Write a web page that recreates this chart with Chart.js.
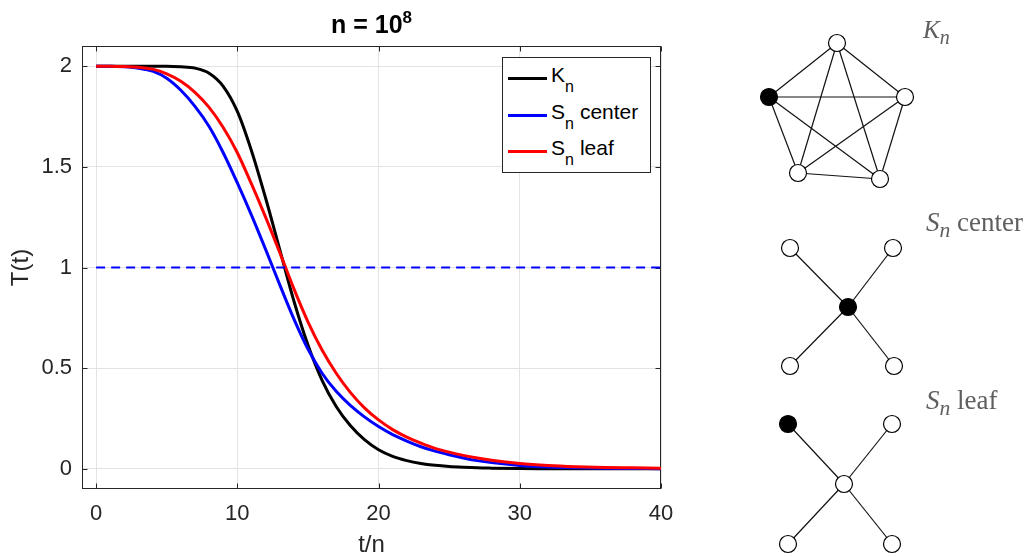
<!DOCTYPE html>
<html><head><meta charset="utf-8">
<script src="https://cdn.jsdelivr.net/npm/chart.js@4.4.1/dist/chart.umd.min.js"></script>
<style>
body{margin:0;width:1030px;height:557px;background:#fff;position:relative;overflow:hidden;font-family:"Liberation Sans",Arial,sans-serif;}
canvas{position:absolute;top:0;}
#main{left:0;}
#graphs{left:700px;}
.abs{position:absolute;white-space:nowrap;}
#title{left:82px;width:579px;top:12px;text-align:center;font-weight:bold;font-size:25px;line-height:25px;color:#000;}
#title sup{font-size:17px;vertical-align:baseline;position:relative;top:-10px;}
#legend{left:502px;top:57px;width:147px;height:114px;border:1px solid #262626;background:#fff;}
.lrow-line{position:absolute;height:3px;width:39px;}
.lrow-text{position:absolute;font-size:21px;line-height:21px;color:#000;}
.lrow-text sub{font-size:16px;vertical-align:baseline;position:relative;top:10px;margin-right:6px;}
.glabel{position:absolute;white-space:nowrap;font-family:"Liberation Serif","Times New Roman",serif;color:#5f5f5f;}
.glabel i sub{font-size:0.8em;vertical-align:baseline;position:relative;top:0.28em;}
</style></head><body>
<canvas id="main" width="1030" height="557"></canvas>
<canvas id="graphs" width="330" height="557"></canvas>
<div id="title" class="abs">n = 10<sup>8</sup></div>
<div id="legend" class="abs"></div>
<div class="glabel" style="left:923px;top:17px;font-size:25px;line-height:25px;"><i>K<sub>n</sub></i></div>
<div class="glabel" style="left:926px;top:209px;font-size:27px;line-height:27px;"><i>S<sub>n</sub></i> center</div>
<div class="glabel" style="left:926px;top:387px;font-size:27px;line-height:27px;"><i>S<sub>n</sub></i> leaf</div>
<script>
// ---------- data ----------
const tValues = [0,1,2,3,4,5,6,7,8,9,10,11,12,13,14,15,16,17,18,19,20,21,22,23,24,25,26,27,28,30,32,34,36,38,40];
const knValues = [2,2,2,2,2,2,1.997,1.99,1.965,1.90,1.775,1.58,1.345,1.09,0.835,0.615,0.44,0.31,0.215,0.145,0.095,0.062,0.041,0.027,0.018,0.012,0.008,0.005,0.0035,0.0015,0.0007,0.0003,0,0,0];
const snCenterValues = [2,2,1.997,1.99,1.975,1.94,1.88,1.80,1.70,1.57,1.42,1.26,1.09,0.915,0.745,0.595,0.475,0.385,0.315,0.258,0.21,0.17,0.138,0.11,0.088,0.07,0.054,0.041,0.031,0.017,0.009,0.005,0.003,0.002,0.001];
const snLeafValues = [2,2,1.998,1.995,1.985,1.962,1.925,1.87,1.795,1.695,1.57,1.415,1.25,1.075,0.895,0.73,0.59,0.475,0.38,0.303,0.243,0.195,0.158,0.128,0.102,0.083,0.067,0.054,0.043,0.027,0.017,0.011,0.007,0.005,0.003];
const refX = [0, 40];
const refY = [1, 1];
const xTicks = [0, 10, 20, 30, 40];
const yTicks = [0, 0.5, 1, 1.5, 2];
const seriesLabels = ['K<sub>n</sub>', 'S<sub>n</sub>center', 'S<sub>n</sub>leaf'];
const seriesColors = ['#000000', '#0000ff', '#ff0000'];

// graph diagrams (layout coordinates inside the right-hand panel)
const knNodeX = [137, 69, 205, 98, 180];
const knNodeY = [43, 97, 97, 173, 179];
const knFilled = [0, 1, 0, 0, 0];
const knEdges = [[0,1],[0,2],[0,3],[0,4],[1,2],[1,3],[1,4],[2,3],[2,4],[3,4]];
const centerNodeX = [90, 193, 148, 90, 194];
const centerNodeY = [248, 248, 307, 366, 366];
const centerFilled = [0, 0, 1, 0, 0];
const centerEdges = [[2,0],[2,1],[2,3],[2,4]];
const leafNodeX = [88, 192, 144, 88, 192];
const leafNodeY = [424, 424, 484, 544, 544];
const leafFilled = [1, 0, 0, 0, 0];
const leafEdges = [[2,0],[2,1],[2,3],[2,4]];

// ---------- main chart ----------
Chart.defaults.font.family = '"Liberation Sans", Arial, sans-serif';
const toXY = (xs, ys) => xs.map((x, i) => ({x: x, y: ys[i]}));
const seriesValues = [knValues, snCenterValues, snLeafValues];

const boxPlugin = {
  id: 'box',
  beforeDatasetsDraw(chart) {
    const {ctx, chartArea: a, scales: {x, y}} = chart;
    const L = Math.round(a.left) + 0.5, R = Math.round(a.right) - 0.5;
    const T = Math.round(a.top) + 0.5, B = Math.round(a.bottom) - 0.5;
    ctx.save();
    ctx.strokeStyle = '#262626';
    ctx.lineWidth = 1;
    ctx.strokeRect(L, T, R - L, B - T);
    ctx.beginPath();
    const tl = 5;
    xTicks.forEach(v => {
      const p = Math.round(x.getPixelForValue(v)) + 0.5;
      ctx.moveTo(p, B); ctx.lineTo(p, B - tl);
      ctx.moveTo(p, T); ctx.lineTo(p, T + tl);
    });
    yTicks.forEach(v => {
      const p = Math.round(y.getPixelForValue(v)) + 0.5;
      ctx.moveTo(L, p); ctx.lineTo(L + tl, p);
      ctx.moveTo(R, p); ctx.lineTo(R - tl, p);
    });
    ctx.stroke();
    ctx.restore();
  }
};

const datasets = seriesValues.map((vals, i) => ({
  data: toXY(tValues, vals),
  borderColor: seriesColors[i],
  borderWidth: 3,
  pointRadius: 0,
  cubicInterpolationMode: 'monotone',
  fill: false,
  order: 3 - i
}));
datasets.push({
  data: toXY(refX, refY),
  borderColor: '#0000ff',
  borderWidth: 2,
  borderDash: [9, 6],
  pointRadius: 0,
  fill: false,
  order: 0
});

new Chart(document.getElementById('main'), {
  type: 'line',
  data: {datasets},
  plugins: [boxPlugin],
  options: {
    responsive: false,
    animation: false,
    events: [],
    layout: {autoPadding: false, padding: {left: 0, top: 46, right: 369, bottom: 0}},
    plugins: {legend: {display: false}, tooltip: {enabled: false}, title: {display: false}},
    scales: {
      x: {
        type: 'linear', min: -1, max: 40,
        afterBuildTicks: s => { s.ticks = xTicks.map(v => ({value: v})); },
        afterFit: s => { s.height = 68; },
        grid: {color: '#e3e3e3', lineWidth: 1, drawTicks: false},
        border: {display: false},
        ticks: {color: '#262626', font: {size: 22}, padding: 12, maxRotation: 0, autoSkip: false, callback: v => String(v)},
        title: {display: true, text: 't/n', color: '#262626', font: {size: 24, lineHeight: 1.0}, padding: {top: 0, bottom: 0}}
      },
      y: {
        type: 'linear', min: -0.1, max: 2.1,
        afterBuildTicks: s => { s.ticks = yTicks.map(v => ({value: v})); },
        afterFit: s => { s.width = 82; },
        grid: {color: '#e3e3e3', lineWidth: 1, drawTicks: false},
        border: {display: false},
        ticks: {color: '#262626', font: {size: 22}, padding: 10, autoSkip: false, callback: v => String(v)},
        title: {display: true, text: 'T(t)', color: '#262626', font: {size: 24}, padding: {top: 7, bottom: 0}}
      }
    }
  }
});

// ---------- legend ----------
const legend = document.getElementById('legend');
const rowLineY = [78, 115, 151];
seriesLabels.forEach((lab, i) => {
  const ln = document.createElement('div');
  ln.className = 'lrow-line';
  ln.style.left = (508 - 503) + 'px';
  ln.style.top = (rowLineY[i] - 58 - 1.5) + 'px';
  ln.style.background = seriesColors[i];
  legend.appendChild(ln);
  const tx = document.createElement('div');
  tx.className = 'lrow-text';
  tx.style.left = (551 - 503) + 'px';
  tx.style.top = (rowLineY[i] + 4 - 18 - 58) + 'px';
  tx.innerHTML = lab;
  legend.appendChild(tx);
});

// ---------- graph diagrams ----------
const graphs = [
  {nx: knNodeX, ny: knNodeY, filled: knFilled, edges: knEdges},
  {nx: centerNodeX, ny: centerNodeY, filled: centerFilled, edges: centerEdges},
  {nx: leafNodeX, ny: leafNodeY, filled: leafFilled, edges: leafEdges}
];
const gDatasets = [];
graphs.forEach(g => {
  gDatasets.push({
    type: 'scatter',
    data: toXY(g.nx, g.ny),
    pointRadius: 8.5,
    pointBorderWidth: 1.2,
    pointBorderColor: '#000',
    pointBackgroundColor: g.filled.map(f => f ? '#000' : '#fff'),
    showLine: false,
    clip: false,
    order: 0
  });
  g.edges.forEach(([a, b]) => {
    gDatasets.push({
      type: 'scatter',
      data: [{x: g.nx[a], y: g.ny[a]}, {x: g.nx[b], y: g.ny[b]}],
      showLine: true,
      borderColor: '#111',
      borderWidth: 1.2,
      pointRadius: 0,
      clip: false,
      order: 1
    });
  });
});
new Chart(document.getElementById('graphs'), {
  type: 'scatter',
  data: {datasets: gDatasets},
  options: {
    responsive: false,
    animation: false,
    events: [],
    layout: {autoPadding: false, padding: 0},
    plugins: {legend: {display: false}, tooltip: {enabled: false}},
    scales: {
      x: {type: 'linear', min: 0, max: 330, display: false},
      y: {type: 'linear', min: 0, max: 557, reverse: true, display: false}
    }
  }
});
</script>
</body></html>
